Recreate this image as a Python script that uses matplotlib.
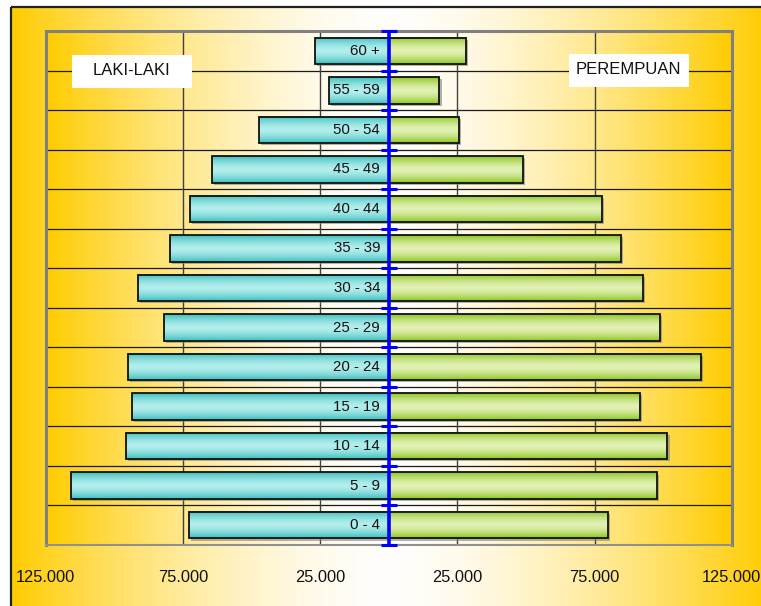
import numpy as np
import matplotlib
matplotlib.use("Agg")
import matplotlib.pyplot as plt
from matplotlib.patches import Rectangle
from matplotlib import patheffects as pe

# age groups, bottom to top
groups = ['0 - 4', '5 - 9', '10 - 14', '15 - 19', '20 - 24', '25 - 29', '30 - 34',
          '35 - 39', '40 - 44', '45 - 49', '50 - 54', '55 - 59', '60 +']
male = [72800, 115800, 95700, 93500, 95000, 81900, 91400,
        79700, 72400, 64400, 47200, 21700, 26800]
female = [79900, 97900, 101600, 91600, 113700, 98900, 92600,
          84700, 77700, 48800, 25500, 18500, 28000]

tick_pos = [-125000, -75000, -25000, 25000, 75000, 125000]
tick_lbl = ['125.000', '75.000', '25.000', '25.000', '75.000', '125.000']
grid_x = [-75000, -25000, 25000, 75000]

plt.rcParams['font.family'] = ['Liberation Sans', 'DejaVu Sans']

W, H = 761, 606
fig = plt.figure(figsize=(W / 100, H / 100), dpi=100)
fig.patch.set_facecolor('white')

gold = np.array([255, 204, 0]) / 255
white = np.array([255, 254, 252]) / 255


def h_gradient(n=400):
    t = np.abs(np.linspace(-1, 1, n)) ** 1.6
    return (white[None, :] * (1 - t[:, None]) + gold[None, :] * t[:, None])[None, :, :]


def v_gradient(dark, light, n=64):
    s = np.abs(np.linspace(-1, 1, n)) ** 1.6
    dark = np.array(dark) / 255
    light = np.array(light) / 255
    return (light[None, :] * (1 - s[:, None]) + dark[None, :] * s[:, None])[:, None, :]


# outer chart area
bg = fig.add_axes([0, 0, 1, 1], zorder=0)
bg.imshow(h_gradient(), extent=(11, 767, 612, 7), aspect='auto')
bg.add_patch(Rectangle((11, 7), 756, 605, fill=False, ec='#202020', lw=1.6))
bg.set_xlim(0, W)
bg.set_ylim(H, 0)
bg.axis('off')

# plot area
ax = fig.add_axes([45.7 / W, (H - 545) / H, 686 / W, 514 / H], zorder=1)
ax.set_facecolor('none')
ax.imshow(h_gradient(), extent=(-125000, 125000, -0.5, 12.5), aspect='auto', zorder=0)

y = np.arange(len(groups))
bounds = np.arange(-0.5, len(groups))
bh = 0.67

for b in bounds[1:-1]:
    ax.axhline(b, color='#1a1a1a', lw=0.9, zorder=1)
for gx in grid_x:
    ax.axvline(gx, color='#404040', lw=1.0, zorder=1)

cyan_grad = v_gradient((60, 190, 190), (178, 238, 236))
green_grad = v_gradient((140, 198, 30), (226, 241, 180))

shadow = [pe.SimplePatchShadow(offset=(1.5, -1.5), shadow_rgbFace='#808080', alpha=0.6), pe.Normal()]
mb = ax.barh(y, [-v for v in male], height=bh, color='#60c8c8', zorder=2)
fb = ax.barh(y, female, height=bh, color='#a8d850', zorder=2)
for p in list(mb) + list(fb):
    p.set_path_effects(shadow)

for yi, m, f in zip(y, male, female):
    ax.imshow(cyan_grad, extent=(-m, 0, yi - bh / 2, yi + bh / 2), aspect='auto', zorder=3)
    ax.imshow(green_grad, extent=(0, f, yi - bh / 2, yi + bh / 2), aspect='auto', zorder=3)

ax.barh(y, [-v for v in male], height=bh, fill=False, ec='#101010', lw=1.3, zorder=4)
ax.barh(y, female, height=bh, fill=False, ec='#101010', lw=1.3, zorder=4)

for yi, g in zip(y, groups):
    ax.text(-3100, yi, g, ha='right', va='center', fontsize=10.8, color='#111111', zorder=6)

# center axis with tick marks
ax.axvline(0, color='#0000ff', lw=2.6, zorder=5)
ax.plot(np.zeros(len(bounds)), bounds, ls='none', marker='_', ms=11, mew=2.2,
        color='#0000ff', zorder=5, clip_on=False)

ax.set_xlim(-125000, 125000)
ax.set_ylim(-0.5, len(groups) - 0.5)
ax.set_yticks([])
ax.set_xticks(tick_pos)
ax.set_xticklabels(tick_lbl, fontsize=11.8, color='#111111')
ax.tick_params(axis='x', length=0, pad=18)
for side in ['top', 'left', 'right']:
    ax.spines[side].set_color('#808080')
    ax.spines[side].set_linewidth(2.2)
ax.spines['bottom'].set_color('#909090')
ax.spines['bottom'].set_linewidth(1.5)

# legend boxes
ov = fig.add_axes([0, 0, 1, 1], zorder=3)
ov.set_xlim(0, W)
ov.set_ylim(H, 0)
ov.axis('off')
ov.add_patch(Rectangle((72, 55), 120, 33, color='white', lw=0))
ov.add_patch(Rectangle((569, 54), 120, 33, color='white', lw=0))
ov.text(131, 75, 'LAKI-LAKI', ha='center', va='baseline', fontsize=12, color='#111111')
ov.text(628.5, 74, 'PEREMPUAN', ha='center', va='baseline', fontsize=12, color='#111111')

fig.savefig('out.png', dpi=100)
